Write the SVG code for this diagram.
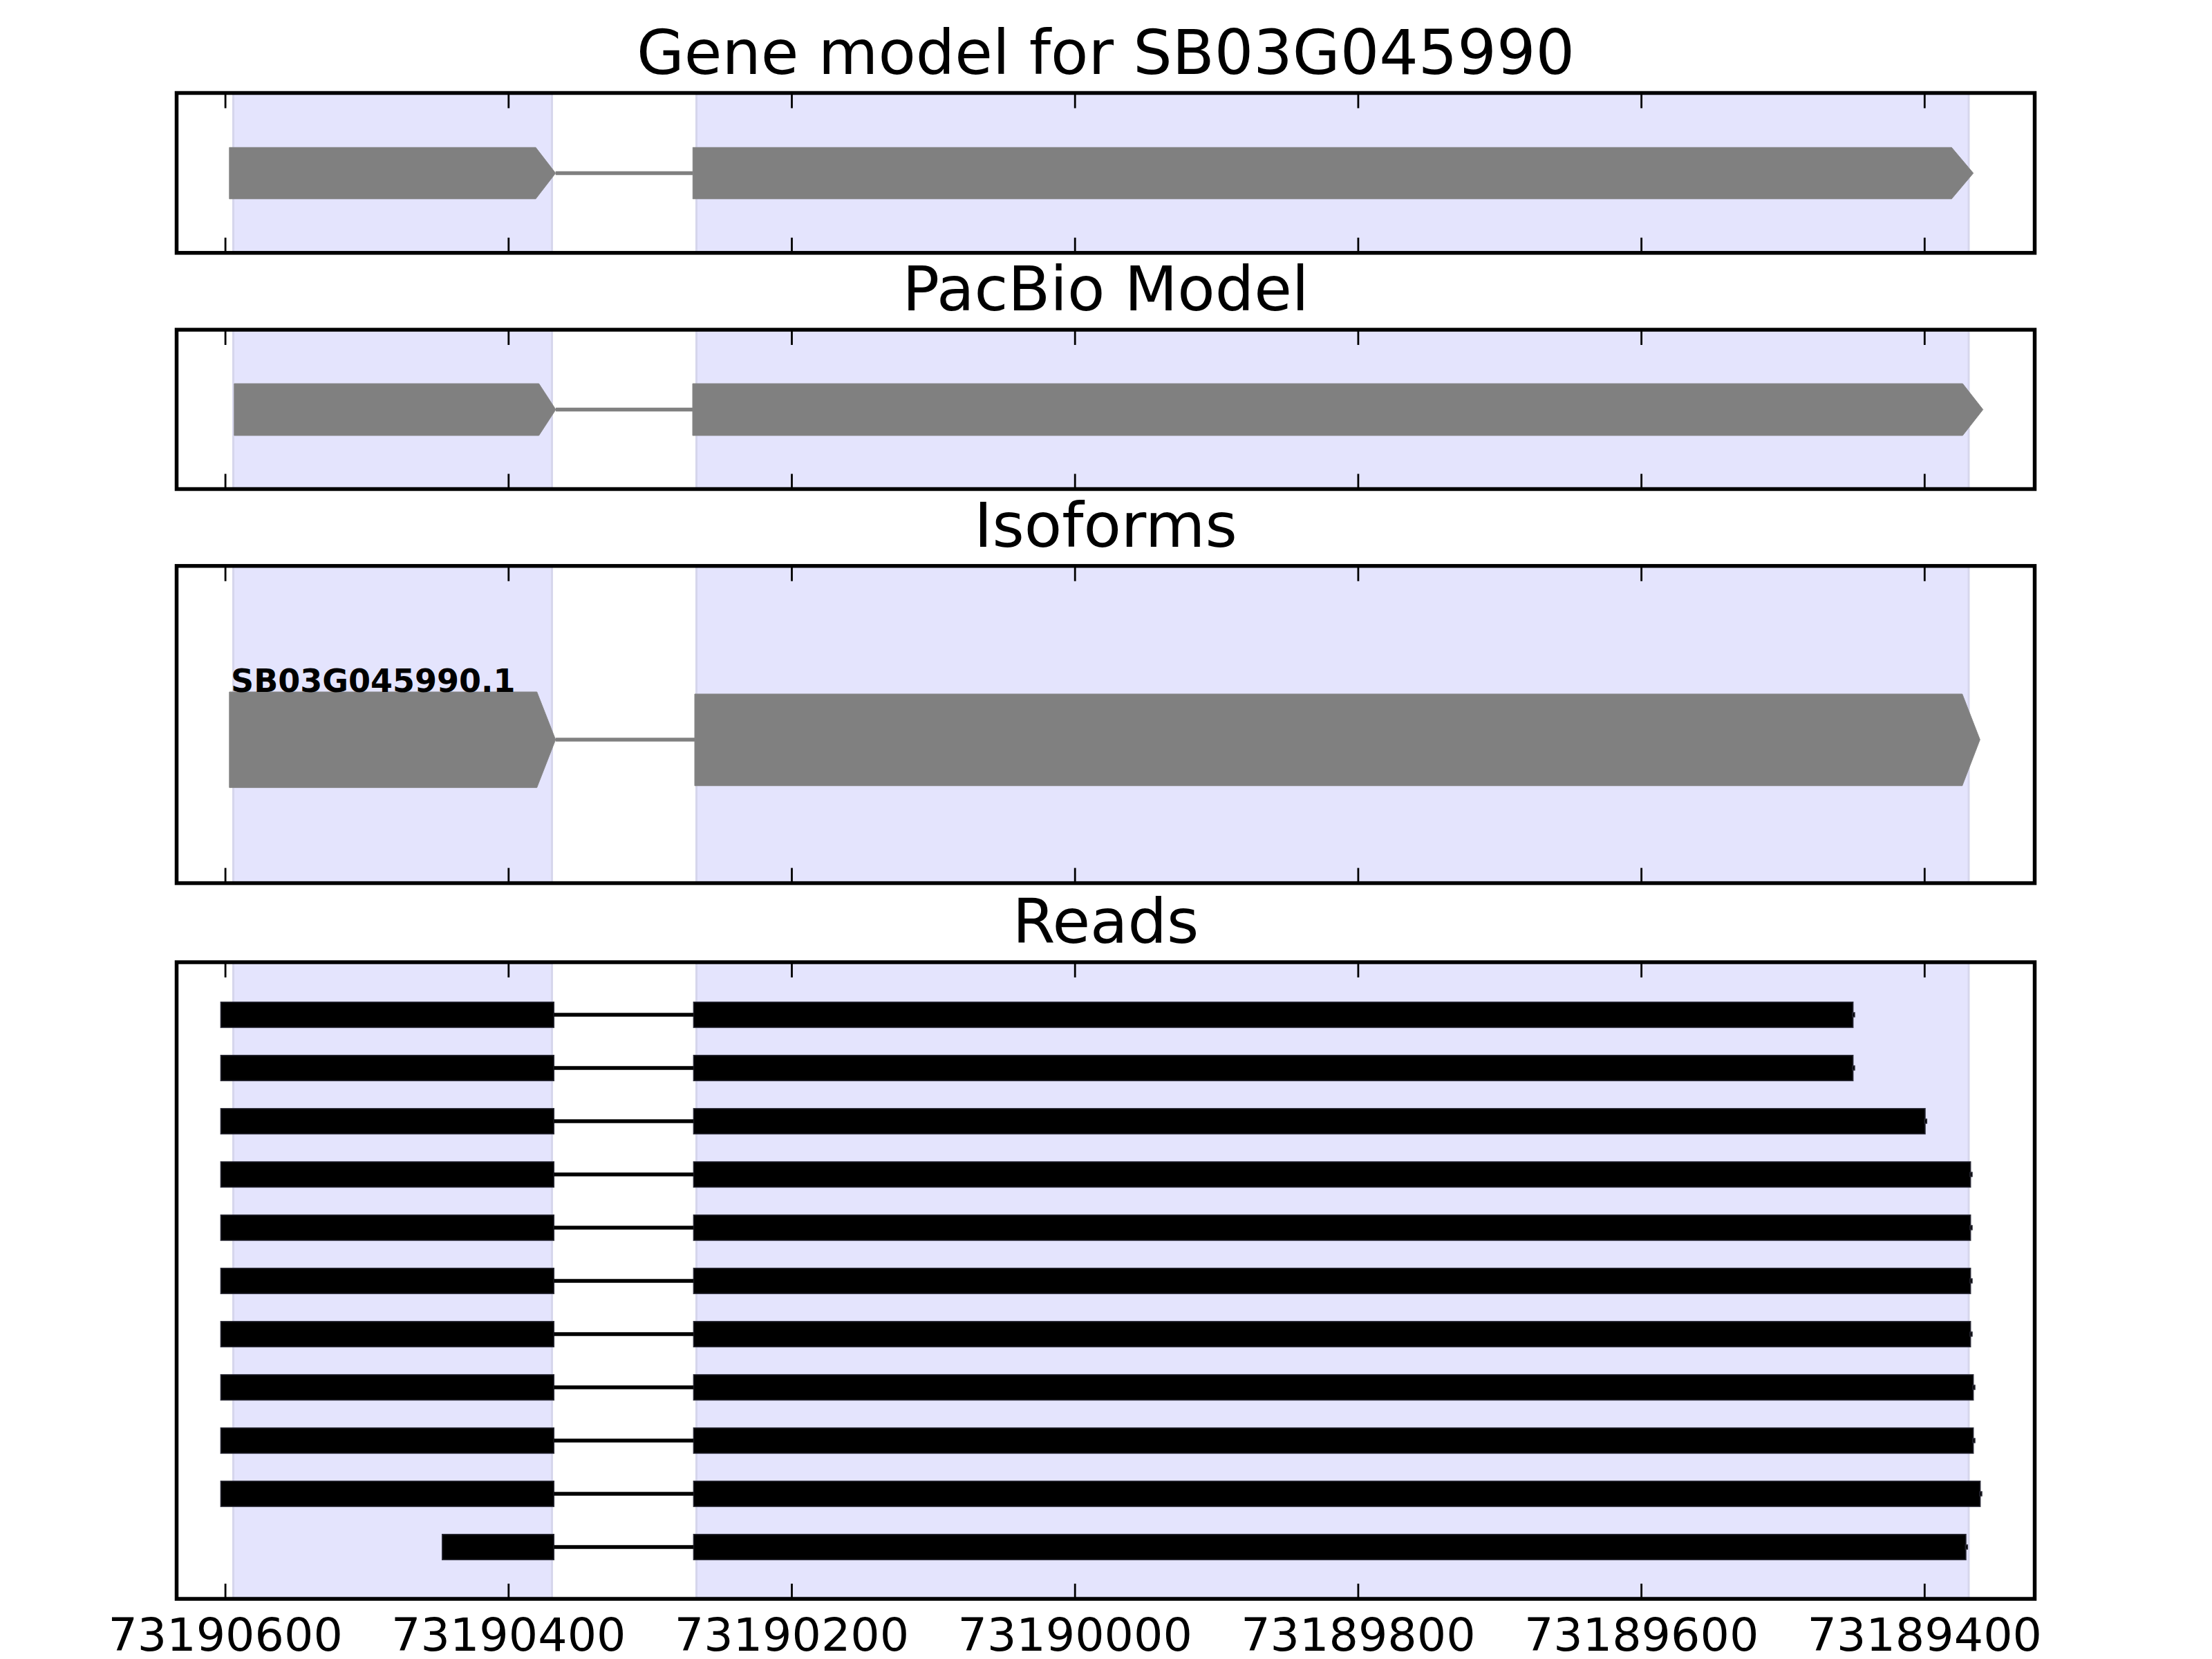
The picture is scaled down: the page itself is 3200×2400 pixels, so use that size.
<svg xmlns="http://www.w3.org/2000/svg" width="3200" height="2400" viewBox="0 0 3200 2400">
<style>
.bg{fill:#ffffff}
.band{fill:#E4E4FD;stroke:#D6D6EC;stroke-width:3}
.ex{fill:#808080;stroke:#858585;stroke-width:1}
.rd{fill:#000000;stroke:#2a2a36;stroke-width:1.5}
.spine{fill:none;stroke:#000000;stroke-width:5.5}
.tick{stroke:#000000;stroke-width:2.8}
.gi{stroke:#808080;stroke-width:5.5}
.ri{stroke:#000000;stroke-width:5.3}
.title{font-family:"DejaVu Sans","Liberation Sans",sans-serif;font-size:88.9px;text-anchor:middle;fill:#000}
.tl{font-family:"DejaVu Sans","Liberation Sans",sans-serif;font-size:66.7px;text-anchor:middle;fill:#000}
.lab{font-family:"DejaVu Sans","Liberation Sans",sans-serif;font-size:46px;font-weight:bold;fill:#000}
</style>
<defs>
<g id="tk">
<line class="tick" x1="326.1" y1="0" x2="326.1" y2="22"/>
<line class="tick" x1="735.8" y1="0" x2="735.8" y2="22"/>
<line class="tick" x1="1145.5" y1="0" x2="1145.5" y2="22"/>
<line class="tick" x1="1555.2" y1="0" x2="1555.2" y2="22"/>
<line class="tick" x1="1964.9" y1="0" x2="1964.9" y2="22"/>
<line class="tick" x1="2374.6" y1="0" x2="2374.6" y2="22"/>
<line class="tick" x1="2784.3" y1="0" x2="2784.3" y2="22"/>
</g>
</defs>
<rect class="bg" x="0" y="0" width="3200" height="2400"/>

<!-- Panel 1: Gene model -->
<g id="panel-gene-model">
<text class="title" x="1599.5" y="107">Gene model for SB03G045990</text>
<rect class="band" x="337.5" y="134.5" width="461" height="231.3"/>
<rect class="band" x="1007.5" y="134.5" width="1840.5" height="231.3"/>
<polygon class="ex" points="331.8,213.3 775,213.3 803.7,250.5 775,287.7 331.8,287.7"/>
<polygon class="ex" points="1002.3,213.3 2823.3,213.3 2854.7,250.5 2823.3,287.7 1002.3,287.7"/>
<use href="#tk" transform="translate(0,134.5)"/>
<use href="#tk" transform="translate(0,365.8) scale(1,-1)"/>
<rect class="spine" x="255.5" y="134.5" width="2688" height="231.3"/>
</g>

<!-- Panel 2: PacBio Model -->
<g id="panel-pacbio">
<text class="title" x="1599.5" y="449">PacBio Model</text>
<rect class="band" x="337.5" y="477" width="461" height="230.5"/>
<rect class="band" x="1007.5" y="477" width="1840.5" height="230.5"/>
<polygon class="ex" points="338.8,555 779.6,555 804,592.5 779.6,630 338.8,630"/>
<polygon class="ex" points="1002,555 2839.3,555 2868.7,592.5 2839.3,630 1002,630"/>
<use href="#tk" transform="translate(0,477)"/>
<use href="#tk" transform="translate(0,707.5) scale(1,-1)"/>
<rect class="spine" x="255.5" y="477" width="2688" height="230.5"/>
</g>

<!-- Panel 3: Isoforms -->
<g id="panel-isoforms">
<text class="title" x="1599.5" y="791">Isoforms</text>
<rect class="band" x="337.5" y="818.7" width="461" height="458.9"/>
<rect class="band" x="1007.5" y="818.7" width="1840.5" height="458.9"/>
<polygon class="ex" points="331.8,1001 776.7,1001 803.7,1070 776.7,1139.3 331.8,1139.3"/>
<polygon class="ex" points="1005,1004 2838.7,1004 2864.3,1070 2838.7,1136.7 1005,1136.7"/>
<text class="lab" x="334" y="1001">SB03G045990.1</text>
<use href="#tk" transform="translate(0,818.7)"/>
<use href="#tk" transform="translate(0,1277.6) scale(1,-1)"/>
<rect class="spine" x="255.5" y="818.7" width="2688" height="458.9"/>
</g>

<!-- Panel 4: Reads -->
<g id="panel-reads">
<text class="title" x="1599.5" y="1364">Reads</text>
<rect class="band" x="337.5" y="1392" width="461" height="921"/>
<rect class="band" x="1007.5" y="1392" width="1840.5" height="921"/>
<g id="reads">
<rect class="rd" x="319.4" y="1449.7" width="481.9" height="36.7"/><rect class="rd" x="1003.4" y="1449.7" width="1677.3" height="36.7"/><rect class="rd" x="2680" y="1465" width="3" height="6"/>
<rect class="rd" x="319.4" y="1526.7" width="481.9" height="36.7"/><rect class="rd" x="1003.4" y="1526.7" width="1677.3" height="36.7"/><rect class="rd" x="2680" y="1542" width="3" height="6"/>
<rect class="rd" x="319.4" y="1603.7" width="481.9" height="36.7"/><rect class="rd" x="1003.4" y="1603.7" width="1781.6" height="36.7"/><rect class="rd" x="2784.3" y="1619" width="3" height="6"/>
<rect class="rd" x="319.4" y="1680.7" width="481.9" height="36.7"/><rect class="rd" x="1003.4" y="1680.7" width="1847.3" height="36.7"/><rect class="rd" x="2850" y="1696" width="3" height="6"/>
<rect class="rd" x="319.4" y="1757.7" width="481.9" height="36.7"/><rect class="rd" x="1003.4" y="1757.7" width="1847.3" height="36.7"/><rect class="rd" x="2850" y="1773" width="3" height="6"/>
<rect class="rd" x="319.4" y="1834.7" width="481.9" height="36.7"/><rect class="rd" x="1003.4" y="1834.7" width="1847.3" height="36.7"/><rect class="rd" x="2850" y="1850" width="3" height="6"/>
<rect class="rd" x="319.4" y="1911.7" width="481.9" height="36.7"/><rect class="rd" x="1003.4" y="1911.7" width="1847.3" height="36.7"/><rect class="rd" x="2850" y="1927" width="3" height="6"/>
<rect class="rd" x="319.4" y="1988.7" width="481.9" height="36.7"/><rect class="rd" x="1003.4" y="1988.7" width="1851.3" height="36.7"/><rect class="rd" x="2854" y="2004" width="3" height="6"/>
<rect class="rd" x="319.4" y="2065.7" width="481.9" height="36.7"/><rect class="rd" x="1003.4" y="2065.7" width="1851.3" height="36.7"/><rect class="rd" x="2854" y="2081" width="3" height="6"/>
<rect class="rd" x="319.4" y="2142.7" width="481.9" height="36.7"/><rect class="rd" x="1003.4" y="2142.7" width="1861.3" height="36.7"/><rect class="rd" x="2864" y="2158" width="3" height="6"/>
<rect class="rd" x="639.8" y="2219.7" width="161.5" height="36.7"/><rect class="rd" x="1003.4" y="2219.7" width="1840.6" height="36.7"/><rect class="rd" x="2843.3" y="2235" width="3" height="6"/>
</g>
<use href="#tk" transform="translate(0,1392)"/>
<use href="#tk" transform="translate(0,2313) scale(1,-1)"/>
<rect class="spine" x="255.5" y="1392" width="2688" height="921"/>
<text class="tl" x="326.1" y="2388">73190600</text>
<text class="tl" x="735.8" y="2388">73190400</text>
<text class="tl" x="1145.5" y="2388">73190200</text>
<text class="tl" x="1555.2" y="2388">73190000</text>
<text class="tl" x="1964.9" y="2388">73189800</text>
<text class="tl" x="2374.6" y="2388">73189600</text>
<text class="tl" x="2784.3" y="2388">73189400</text>
</g>

<!-- Connectors: intron lines -->
<g id="connectors">
<line class="gi" x1="803.7" y1="250.5" x2="1002.3" y2="250.5"/>
<line class="gi" x1="804" y1="592.5" x2="1002" y2="592.5"/>
<line class="gi" x1="803.7" y1="1070" x2="1005" y2="1070"/>
<line class="ri" x1="801.3" y1="1468" x2="1003.4" y2="1468"/>
<line class="ri" x1="801.3" y1="1545" x2="1003.4" y2="1545"/>
<line class="ri" x1="801.3" y1="1622" x2="1003.4" y2="1622"/>
<line class="ri" x1="801.3" y1="1699" x2="1003.4" y2="1699"/>
<line class="ri" x1="801.3" y1="1776" x2="1003.4" y2="1776"/>
<line class="ri" x1="801.3" y1="1853" x2="1003.4" y2="1853"/>
<line class="ri" x1="801.3" y1="1930" x2="1003.4" y2="1930"/>
<line class="ri" x1="801.3" y1="2007" x2="1003.4" y2="2007"/>
<line class="ri" x1="801.3" y1="2084" x2="1003.4" y2="2084"/>
<line class="ri" x1="801.3" y1="2161" x2="1003.4" y2="2161"/>
<line class="ri" x1="801.3" y1="2238" x2="1003.4" y2="2238"/>
</g>
</svg>
